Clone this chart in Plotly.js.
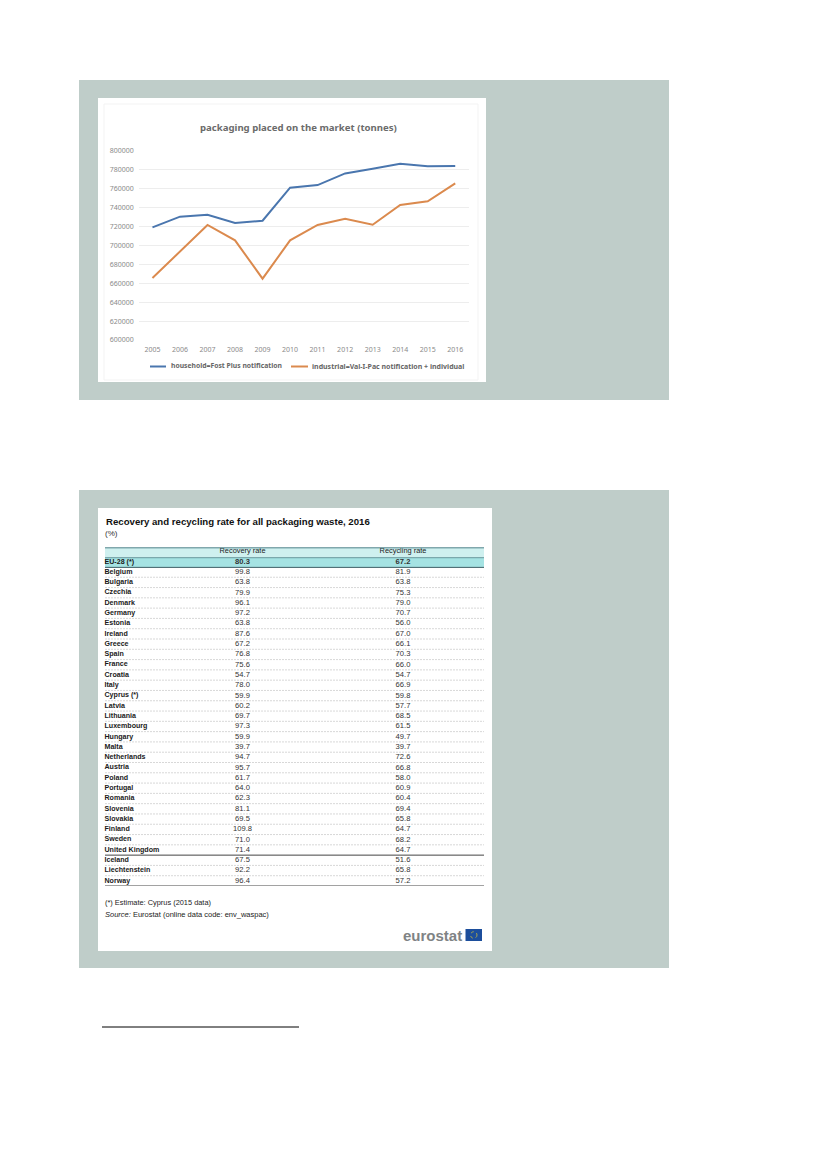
<!DOCTYPE html>
<html>
<head>
<meta charset="utf-8">
<script src="https://cdn.plot.ly/plotly-3.0.1.min.js"></script>
<style>html,body{margin:0;padding:0;background:#fff}#g{width:827px;height:1169px}</style>
</head>
<body>
<div id="g"></div>
<script>
const years = ['2005','2006','2007','2008','2009','2010','2011','2012','2013','2014','2015','2016'];
const household = [719000,730300,732400,723600,726000,760900,763700,776000,781000,786300,783500,783800];
const industrial = [665500,693700,721500,705300,664800,705300,721500,728200,721800,742600,746500,765500];
const householdName = 'household=Fost Plus notification';
const industrialName = 'industrial=Val-I-Pac notification + individual';
const yTicks = [600000,620000,640000,660000,680000,700000,720000,740000,760000,780000,800000];

const countries = ['EU-28 (*)','Belgium','Bulgaria','Czechia','Denmark','Germany','Estonia','Ireland','Greece','Spain','France','Croatia','Italy','Cyprus (*)','Latvia','Lithuania','Luxembourg','Hungary','Malta','Netherlands','Austria','Poland','Portugal','Romania','Slovenia','Slovakia','Finland','Sweden','United Kingdom','Iceland','Liechtenstein','Norway'];
const recovery = ['80.3','99.8','63.8','79.9','96.1','97.2','63.8','87.6','67.2','76.8','75.6','54.7','78.0','59.9','60.2','69.7','97.3','59.9','39.7','94.7','95.7','61.7','64.0','62.3','81.1','69.5','109.8','71.0','71.4','67.5','92.2','96.4'];
const recycling = ['67.2','81.9','63.8','75.3','79.0','70.7','56.0','67.0','66.1','70.3','66.0','54.7','66.9','59.8','57.7','68.5','61.5','49.7','39.7','72.6','66.8','58.0','60.9','60.4','69.4','65.8','64.7','68.2','64.7','51.6','65.8','57.2'];
const colHeaders = ['Recovery rate','Recycling rate'];

const W = 827, H = 1169;
const px = v => v / W, py = v => 1 - v / H;
const rows = countries.map((_, i) => i);
const TF = 'Liberation Sans, Arial, sans-serif';
const CF = 'Noto Sans, Liberation Sans, sans-serif';

const rowNames = rows.map(i => '<b>' + countries[i] + '</b>');
const cell = (a) => a.map((v, i) => i === 0 ? '<b>' + v + '</b>' : v);
const X_LABEL = 104.5, X_REC = 242.5, X_RYC = 403; // pixel columns on the x2 axis

const textTrace = (x, y, text, pos, size, color) => ({
  type:'scatter', mode:'text', xaxis:'x2', yaxis:'y2', x, y, text, textposition:pos,
  textfont:{family:TF, size, color}, hoverinfo:'skip', showlegend:false, cliponaxis:false
});

const traces = [
  {type:'scatter', mode:'lines', x:years, y:household, name:householdName, showlegend:false, line:{color:'#4A76AE', width:2}},
  {type:'scatter', mode:'lines', x:years, y:industrial, name:industrialName, showlegend:false, line:{color:'#DB8A4E', width:2}},
  textTrace(rows.map(()=>X_LABEL), rows, rowNames, 'middle right', 7.1, '#1a1a1a'),
  textTrace(rows.map(()=>X_REC), rows, cell(recovery), 'middle center', 7.6, '#333'),
  textTrace(rows.map(()=>X_RYC), rows, cell(recycling), 'middle center', 7.6, '#333'),
  textTrace([X_REC, X_RYC], [-1, -1], colHeaders, 'middle center', 7.4, '#222')
];

const shapes = [];
const rect = (x0,y0,x1,y1,fill) => shapes.push({type:'rect',xref:'paper',yref:'paper',x0:px(x0),x1:px(x1),y0:py(y0),y1:py(y1),fillcolor:fill,line:{width:0},layer:'below'});
rect(79,80,669,400,'#BFCDC9');
rect(79,490,669,968,'#BFCDC9');
rect(98,98,486,382,'#FFFFFF');
rect(98,508,492,951,'#FFFFFF');
shapes.push({type:'rect',xref:'paper',yref:'paper',x0:px(104),x1:px(478),y0:py(104),y1:py(380),line:{color:'#F3F3F3',width:1},layer:'below'});

const band = (y0,y1,fill) => shapes.push({type:'rect',xref:'x2',yref:'y2',x0:105,x1:484,y0,y1,fillcolor:fill,line:{width:0},layer:'below'});
const rule = (y,color,width,dash) => shapes.push({type:'line',xref:'x2',yref:'y2',x0:105,x1:484,y0:y,y1:y,line:{color,width,dash:dash||'solid'}});
band(-1.36,-0.4,'#CFF0EF');
band(-0.4,0.54,'#A5E3E3');
rows.slice(1,-1).forEach(i => { if (i !== 28) rule(i+0.5,'#BDBDBD',0.6,'2px,1px'); });
rule(-1.36,'#4E8088',1);
rule(-0.4,'#4E8088',0.8);
rule(0.54,'#3F5F66',1);
rule(28.5,'#444',1);
rule(31.5,'#444',1);
// legend keys
const key = (x0,x1,color) => shapes.push({type:'line',xref:'paper',yref:'paper',x0:px(x0),x1:px(x1),y0:py(366.5),y1:py(366.5),line:{color,width:2}});
key(150,166,'#4A76AE');
key(291,308,'#DB8A4E');
// footnote separator
shapes.push({type:'line',xref:'paper',yref:'paper',x0:px(102),x1:px(299),y0:py(1027),y1:py(1027),line:{color:'#000',width:1}});
// EU flag of the eurostat logo
shapes.push({type:'rect',xref:'paper',yref:'paper',x0:px(465.5),x1:px(482),y0:py(929),y1:py(941),fillcolor:'#1C4E9C',line:{width:0}});
shapes.push({type:'circle',xref:'paper',yref:'paper',x0:px(470.5),x1:px(477),y0:py(931.7),y1:py(938.3),line:{color:'#C9B83A',width:0.8,dash:'dot'}});

const ann = (x,y,text,size,color,xanchor,family) => ({xref:'paper',yref:'paper',x:px(x),y:py(y),text,showarrow:false,xanchor,yanchor:'middle',font:{family:family||TF,size,color}});

const layout = {
  width:W, height:H, margin:{l:0,r:0,t:0,b:0,pad:0}, paper_bgcolor:'#fff', plot_bgcolor:'rgba(0,0,0,0)',
  showlegend:false,
  xaxis:{domain:[px(138.7),px(469)],type:'category',range:[-0.5,11.5],showgrid:false,zeroline:false,showline:false,ticks:'',
    tickfont:{family:CF,size:7,color:'#8a8a8a'},tickvals:years,ticktext:years,ticklabelstandoff:4,automargin:false},
  yaxis:{domain:[py(340),py(150.7)],range:[600000,800000],tickvals:yTicks,ticktext:yTicks.map(String),showgrid:true,gridcolor:'#EDEDED',gridwidth:1,zeroline:false,showline:false,ticks:'',
    tickfont:{family:CF,size:7,color:'#8a8a8a'},ticklabelstandoff:4,automargin:false},
  xaxis2:{domain:[px(98),px(492)],range:[98,492],visible:false,anchor:'y2',fixedrange:true},
  yaxis2:{domain:[py(886),py(547)],range:[31.5,-1.44],visible:false,anchor:'x2',fixedrange:true},
  shapes,
  annotations:[
    ann(298,127,'<b>packaging placed on the market (tonnes)</b>',9.6,'#6b6b6b','center',CF),
    ann(168.5,366,'<b>'+householdName+'</b>',6.8,'#666','left',CF),
    ann(309.5,366.5,'<b>'+industrialName+'</b>',7,'#666','left',CF),
    ann(103.5,521,'<b>Recovery and recycling rate for all packaging waste, 2016</b>',9.65,'#111','left'),
    ann(102.5,533,'(%)',8,'#333','left'),
    ann(102.8,902,'(*) Estimate: Cyprus (2015 data)',7.4,'#222','left'),
    ann(102.8,914,'<i>Source:</i> Eurostat (online data code: env_waspac)',7.5,'#222','left'),
    ann(464,935,'<b>eurostat</b>',15,'#7f8385','right')
  ]
};
Plotly.newPlot('g', traces, layout, {staticPlot:true, displayModeBar:false});
</script>
</body>
</html>
